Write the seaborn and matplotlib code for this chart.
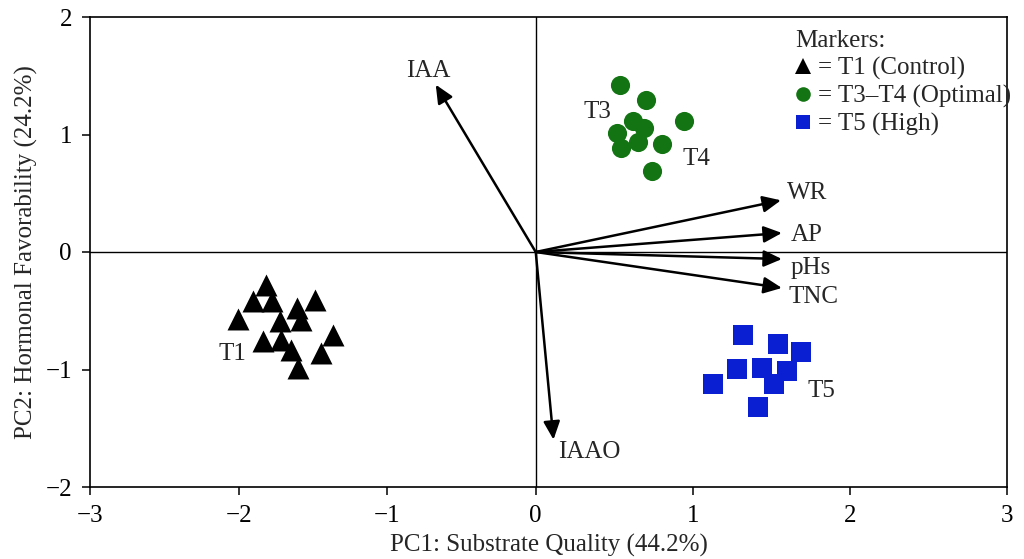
import numpy as np
import pandas as pd
import matplotlib
matplotlib.use("Agg")
import matplotlib.pyplot as plt
from matplotlib.lines import Line2D
import seaborn as sns

# ---- data ----
t1_x = [-1.813, -1.904, -1.778, -2.002, -1.605, -1.488, -1.724, -1.582, -1.834, -1.717, -1.650, -1.362, -1.443, -1.601]
t1_y = [-0.281, -0.420, -0.417, -0.570, -0.477, -0.406, -0.587, -0.576, -0.755, -0.746, -0.831, -0.704, -0.860, -0.987]

t34_x = [0.537, 0.701, 0.945, 0.618, 0.688, 0.516, 0.545, 0.653, 0.803, 0.739]
t34_y = [1.421, 1.296, 1.112, 1.112, 1.055, 1.013, 0.885, 0.932, 0.919, 0.687]

t5_x = [1.320, 1.541, 1.688, 1.280, 1.438, 1.599, 1.129, 1.514, 1.412]
t5_y = [-0.709, -0.779, -0.847, -0.993, -0.987, -1.015, -1.126, -1.123, -1.323]

vec_names = ["IAA", "IAAO", "WR", "AP", "pHs", "TNC"]
vec_x = [-0.673, 0.113, 1.561, 1.567, 1.567, 1.567]
vec_y = [1.424, -1.597, 0.44, 0.162, -0.060, -0.306]

group_names = ["T1", "T3", "T4", "T5"]
legend_labels = ["= T1 (Control)", "= T3\u2013T4 (Optimal)", "= T5 (High)"]
x_ticks = [-3, -2, -1, 0, 1, 2, 3]
y_ticks = [-2, -1, 0, 1, 2]

# ---- style ----
sns.set_theme(style="white")
plt.rcParams["font.family"] = ["Liberation Serif", "DejaVu Serif"]
plt.rcParams["axes.unicode_minus"] = True

FS = 18
BLACK = "#000000"
GREEN = "#137413"
BLUE = "#0a1ed2"

fig = plt.figure(figsize=(10.24, 5.59), dpi=100)
ax = fig.add_axes([90 / 1024, 1 - 487 / 559, (1007 - 90) / 1024, (487 - 17) / 559])

# slightly asymmetric x scale (as in the reference)
a_left = 148.5 / 157.0
def fwd(x):
    x = np.asarray(x, dtype=float)
    return np.where(x < 0, x * a_left, x)
def inv(y):
    y = np.asarray(y, dtype=float)
    return np.where(y < 0, y / a_left, y)
ax.set_xscale("function", functions=(fwd, inv))

ax.set_xlim(-3, 3)
ax.set_ylim(-2, 2)

ax.axhline(0, color="black", lw=1.0, zorder=1)
ax.axvline(0, color="black", lw=1.0, zorder=1)

df1 = pd.DataFrame({"x": t1_x, "y": t1_y})
df2 = pd.DataFrame({"x": t34_x, "y": t34_y})
df3 = pd.DataFrame({"x": t5_x, "y": t5_y})
sns.scatterplot(data=df1, x="x", y="y", marker="^", s=250, color=BLACK, linewidth=0, ax=ax, zorder=3, legend=False)
sns.scatterplot(data=df2, x="x", y="y", marker="o", s=190, color=GREEN, linewidth=0, ax=ax, zorder=3, legend=False)
sns.scatterplot(data=df3, x="x", y="y", marker="s", s=210, color=BLUE, linewidth=0, ax=ax, zorder=3, legend=False)

# loading vectors
for nm, vx, vy in zip(vec_names, vec_x, vec_y):
    ax.annotate("", xy=(vx, vy), xytext=(0, 0),
                arrowprops=dict(arrowstyle="-|>,head_length=0.55,head_width=0.25",
                                color="black", lw=1.8,
                                mutation_scale=20, shrinkA=0, shrinkB=0),
                zorder=2)

label_pos = {
    "IAA": (-0.72, 1.54, "center"),
    "IAAO": (0.14, -1.70, "left"),
    "WR": (1.60, 0.50, "left"),
    "AP": (1.625, 0.145, "left"),
    "pHs": (1.625, -0.14, "left"),
    "TNC": (1.61, -0.38, "left"),
}
for nm in vec_names:
    lx, ly, ha = label_pos[nm]
    ax.text(lx, ly, nm, fontsize=FS, ha=ha, va="center")

# group labels
ax.text(-2.04, -0.87, "T1", fontsize=FS, ha="center", va="center")
ax.text(0.39, 1.19, "T3", fontsize=FS, ha="center", va="center")
ax.text(1.02, 0.79, "T4", fontsize=FS, ha="center", va="center")
ax.text(1.82, -1.18, "T5", fontsize=FS, ha="center", va="center")

# legend
handles = [
    Line2D([], [], marker="^", linestyle="none", color=BLACK, markersize=11, markeredgewidth=0),
    Line2D([], [], marker="o", linestyle="none", color=GREEN, markersize=10.5, markeredgewidth=0),
    Line2D([], [], marker="s", linestyle="none", color=BLUE, markersize=10, markeredgewidth=0),
]
leg = ax.legend(handles, legend_labels, title="Markers:", loc="upper left",
                bbox_to_anchor=(0.769, 0.972), frameon=False, fontsize=FS,
                title_fontsize=FS, handlelength=0.6, handletextpad=0.3,
                labelspacing=0.2, borderaxespad=0.0, borderpad=0.0,
                alignment="left")

ax.set_xticks(x_ticks)
ax.set_yticks(y_ticks)
ax.set_xticklabels([f"{t}".replace("-", "\u2212") for t in x_ticks])
ax.set_yticklabels([f"{t}".replace("-", "\u2212") for t in y_ticks])
ax.tick_params(axis="both", direction="out", length=6, width=1.1, labelsize=FS,
               bottom=True, left=True, top=False, right=False, colors="black", pad=7)
for sp in ax.spines.values():
    sp.set_visible(True)
    sp.set_color("black")
    sp.set_linewidth(1.2)

ax.set_xlabel("PC1: Substrate Quality (44.2%)", fontsize=FS, labelpad=5)
ax.set_ylabel("PC2: Hormonal Favorability (24.2%)", fontsize=FS, labelpad=5)

fig.savefig("out.png", dpi=100, facecolor="white")
